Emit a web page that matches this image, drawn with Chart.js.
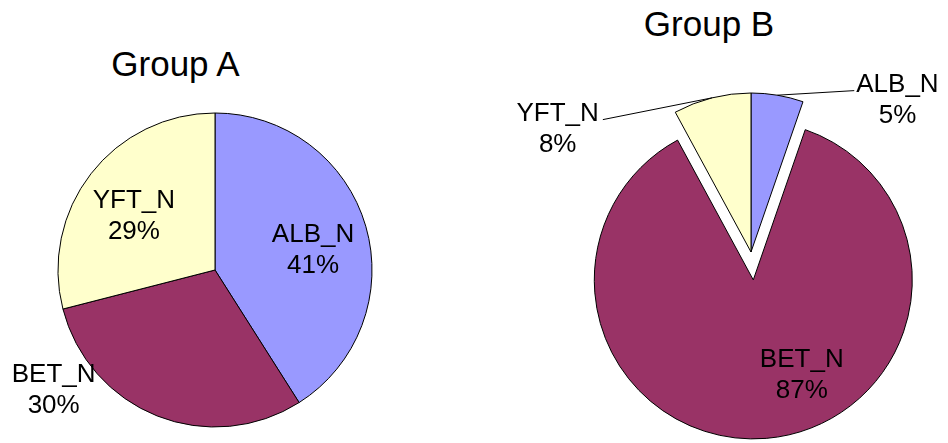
<!DOCTYPE html>
<html>
<head>
<meta charset="utf-8">
<script src="https://cdn.jsdelivr.net/npm/chart.js"></script>
<style>
  html, body { margin: 0; padding: 0; background: #fff; }
  #page { position: relative; width: 948px; height: 443px; overflow: hidden; }
  .titulo {
    position: absolute; font-family: "Liberation Sans", Arial, sans-serif;
    font-size: 35px; line-height: 35px; color: #000; white-space: nowrap;
    transform: translateX(-50%);
  }
  canvas { position: absolute; top: 0; }
</style>
</head>
<body>
<div id="page">
  <div class="titulo" style="left:175.5px; top:45.5px;">Group A</div>
  <div class="titulo" style="left:709px; top:5.5px;">Group B</div>
  <canvas id="chartA" width="430" height="443" style="left:0; width:430px; height:443px;"></canvas>
  <canvas id="chartB" width="518" height="443" style="left:430px; width:518px; height:443px;"></canvas>
</div>
<script>
// Datos de las dos tortas
const categorias = ['ALB_N', 'BET_N', 'YFT_N'];
const grupoA = [41, 30, 29];
const grupoB = [5.3, 86.8, 7.9];
const colores = ['#9999FF', '#993366', '#FFFFCC'];

// Separar (explotar) porciones moviendo el centro del arco
const explotarPlugin = {
    id: 'explotar',
    afterDatasetsUpdate(chart) {
        chart.data.datasets.forEach((ds, di) => {
            const meta = chart.getDatasetMeta(di);
            (ds.explotar || []).forEach((d, i) => {
                const arc = meta.data[i];
                if (!d || !arc) return;
                const medio = (arc.startAngle + arc.endAngle) / 2;
                arc.x += Math.cos(medio) * d;
                arc.y += Math.sin(medio) * d;
            });
        });
    }
};

// Etiquetas: nombre + porcentaje, con linea guia opcional
const etiquetasPlugin = {
    id: 'etiquetas',
    afterDatasetsDraw(chart, args, opts) {
        const ctx = chart.ctx;
        const ds = chart.data.datasets[0];
        const meta = chart.getDatasetMeta(0);
        const total = ds.data.reduce((a, b) => a + b, 0);
        ctx.save();
        ctx.font = '26px "Liberation Sans", Arial, sans-serif';
        ctx.fillStyle = '#000';
        ctx.textAlign = 'center';
        ctx.textBaseline = 'alphabetic';
        meta.data.forEach((arc, i) => {
            const pos = opts.posiciones[i];
            const ang = (pos.angulo - 90) * Math.PI / 180;
            const r = arc.outerRadius * pos.dist;
            const lx = arc.x + Math.cos(ang) * r;
            const ly = arc.y + Math.sin(ang) * r;
            const nombre = chart.data.labels[i];
            const pct = Math.round(ds.data[i] / total * 100) + '%';

            if (pos.guia) {
                const medio = (arc.startAngle + arc.endAngle) / 2;
                const sx = arc.x + Math.cos(medio) * arc.outerRadius;
                const sy = arc.y + Math.sin(medio) * arc.outerRadius;
                const w = ctx.measureText(nombre).width;
                const ex = lx > sx ? lx - w / 2 - 2 : lx + w / 2 + 4;
                ctx.beginPath();
                ctx.strokeStyle = '#000';
                ctx.lineWidth = 1;
                ctx.moveTo(sx, sy);
                ctx.lineTo(ex, ly - 1);
                ctx.stroke();
            }
            ctx.fillText(nombre, lx, ly);
            ctx.fillText(pct, lx, ly + opts.interlineado);
        });
        ctx.restore();
    }
};

function crearTorta(id, valores, explotar, padding, posiciones) {
    const ctx = document.getElementById(id).getContext('2d');
    return new Chart(ctx, {
        type: 'pie',
        data: {
            labels: categorias,
            datasets: [{
                data: valores,
                backgroundColor: colores,
                borderColor: '#000000',
                borderWidth: 1,
                hoverBorderWidth: 1,
                hoverOffset: 0,
                offset: 0,
                explotar: explotar
            }]
        },
        options: {
            responsive: false,
            devicePixelRatio: 1,
            animation: false,
            events: [],
            layout: { padding: padding },
            plugins: {
                legend: { display: false },
                title: { display: false },
                tooltip: { enabled: false },
                etiquetas: { posiciones: posiciones, interlineado: 31 }
            }
        },
        plugins: [explotarPlugin, etiquetasPlugin]
    });
}

crearTorta('chartA', grupoA, [0, 0, 0],
    { left: 57.5, right: 57.5, top: 112.5, bottom: 15.5 },
    [
        { angulo: 73.9, dist: 0.65, guia: false },
        { angulo: 235.3, dist: 1.25, guia: false },
        { angulo: 307.4, dist: 0.65, guia: false }
    ]);

crearTorta('chartB', grupoB, [0, 28, 0],
    { left: 161.5, right: 37.5, top: 92.5, bottom: 31.5 },
    [
        { angulo: 42.4, dist: 1.366, guia: true },
        { angulo: 150.8, dist: 0.625, guia: false },
        { angulo: 304.2, dist: 1.47, guia: true }
    ]);
</script>
</body>
</html>
